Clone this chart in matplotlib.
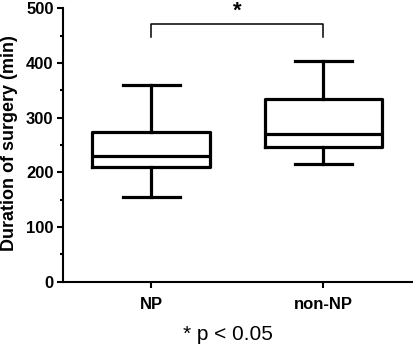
import matplotlib.pyplot as plt

plt.rcParams["font.family"] = ["Liberation Sans", "DejaVu Sans"]

groups = ["NP", "non-NP"]
whislo = [155, 216]
q1 = [210, 246]
med = [230, 271]
q3 = [274, 335]
whishi = [360, 404]

fig = plt.figure(figsize=(4.13, 3.51), dpi=100)
ax = fig.add_axes([0.1533, 0.1974, 0.8467, 0.7789])

stats = []
for i, g in enumerate(groups):
    stats.append({"label": g, "whislo": whislo[i], "q1": q1[i], "med": med[i],
                  "q3": q3[i], "whishi": whishi[i], "fliers": []})

lw = 2.3
ax.bxp(stats, positions=[1, 2], widths=0.683, showfliers=False,
       boxprops=dict(color="black", linewidth=lw),
       medianprops=dict(color="black", linewidth=lw),
       whiskerprops=dict(color="black", linewidth=lw),
       capprops=dict(color="black", linewidth=lw),
       capwidths=0.33)

ax.set_xlim(0.49, 2.52)
ax.set_ylim(0, 500)
ax.set_yticks([0, 100, 200, 300, 400, 500])
ax.set_yticks([50, 150, 250, 350, 450], minor=True)
ax.spines["top"].set_visible(False)
ax.spines["right"].set_visible(False)
ax.spines["left"].set_linewidth(1.5)
ax.spines["bottom"].set_linewidth(1.5)
ax.tick_params(axis="both", which="major", width=1.5, length=4, labelsize=12)
ax.tick_params(axis="y", which="major", pad=3)
ax.tick_params(axis="y", which="minor", width=1.5, length=2.5)
ax.tick_params(axis="x", pad=7)
for lab in ax.get_xticklabels() + ax.get_yticklabels():
    lab.set_fontweight("bold")

fig.text(10 / 413, 1 - 143 / 351, "Duration of surgery (min)", rotation=90,
         ha="center", va="center", fontsize=13, fontweight="bold")

# significance bracket
ax.plot([1, 1, 2, 2], [447, 472, 472, 447], color="black", linewidth=1.1,
         clip_on=False)
ax.text(1.5, 476, "*", ha="center", va="bottom", fontsize=16, fontweight="bold")

fig.text(228 / 413, 1 - 334 / 351, "* p < 0.05", ha="center", va="center",
         fontsize=15)

fig.savefig("out.png", dpi=100)
